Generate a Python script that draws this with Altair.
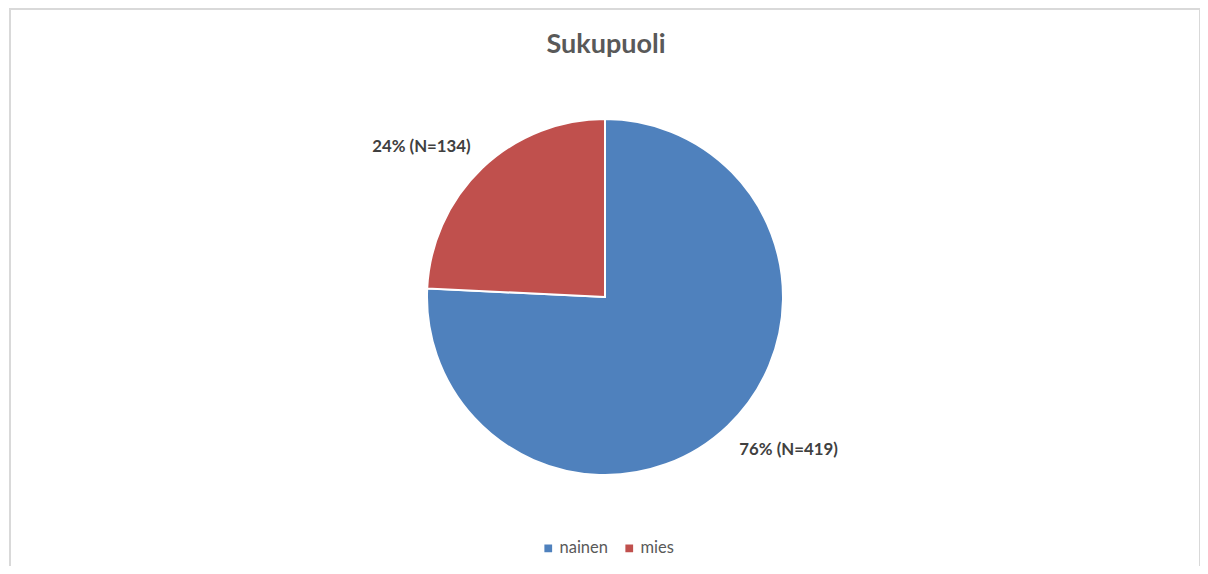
import altair as alt
import pandas as pd

categories = ["nainen", "mies"]
counts = [419, 134]
labels = ["76% (N=419)", "24% (N=134)"]
order_idx = [0, 1]
colors = ["#4F81BD", "#C0504D"]
title_text = "Sukupuoli"

df = pd.DataFrame({"cat": categories, "n": counts, "label": labels, "idx": order_idx})

W, H = 1192, 558
CX, CY, R = 596, 288, 178
FONT = "Lato"

base = alt.Chart(df)

pie = base.mark_arc(outerRadius=R, stroke="white", strokeWidth=2).encode(
    theta=alt.Theta("n:Q", stack=True),
    color=alt.Color(
        "cat:N",
        scale=alt.Scale(domain=categories, range=colors),
        legend=alt.Legend(
            title=None,
            orient="none",
            legendX=531,
            legendY=531,
            direction="horizontal",
            symbolType="square",
            symbolSize=60,
            symbolStrokeWidth=0,
            labelFont=FONT,
            labelFontSize=16.5,
            labelColor="#595959",
            columnPadding=13,
            labelOffset=3,
        ),
    ),
    order=alt.Order("idx:Q"),
    x=alt.value(CX),
    y=alt.value(CY),
)


def label_layer(cat, dx, dy):
    return (
        base.transform_joinaggregate(total="sum(n)")
        .transform_window(cum="sum(n)", sort=[alt.SortField("idx")], frame=[None, 0])
        .transform_calculate(mid="(datum.cum - datum.n / 2) / datum.total")
        .transform_filter(alt.datum.cat == cat)
        .mark_text(
            radius=240, dx=dx, dy=dy, font=FONT, fontSize=16.8, fontWeight="bold",
            color="#404040", align="center", baseline="middle",
        )
        .encode(
            theta=alt.Theta("mid:Q", scale=alt.Scale(domain=[0, 1], range=[0, 6.283185307179586]), stack=None),
            text="label:N",
            x=alt.value(CX),
            y=alt.value(CY),
        )
    )


lab_mies = label_layer("mies", -18, 24)
lab_nainen = label_layer("nainen", 18, -21)
labels_layer = alt.layer(lab_mies, lab_nainen)

title = alt.Chart(pd.DataFrame({"t": [title_text]})).mark_text(
    font=FONT, fontSize=27, fontWeight="bold", color="#595959", baseline="middle", align="center"
).encode(text="t:N", x=alt.value(597), y=alt.value(36))

bd = alt.Chart(pd.DataFrame({"a": [0]}))
border_color = "#d9d9d9"
left = bd.mark_rule(color=border_color, strokeWidth=2).encode(
    x=alt.value(1), y=alt.value(0), y2=alt.value(H))
top = bd.mark_rule(color=border_color, strokeWidth=2).encode(
    x=alt.value(0), x2=alt.value(W), y=alt.value(0))
right = bd.mark_rule(color=border_color, strokeWidth=2).encode(
    x=alt.value(W - 1), y=alt.value(0), y2=alt.value(H))

chart = alt.layer(left, top, right, pie, labels_layer, title).resolve_scale(
    theta="independent"
).properties(
    width=W,
    height=H,
    padding=0,
    autosize=alt.AutoSizeParams(type="fit", contains="padding"),
    background="white",
).configure_view(stroke=None)

chart.save("out.html", embed_options={"renderer": "svg", "actions": False})
